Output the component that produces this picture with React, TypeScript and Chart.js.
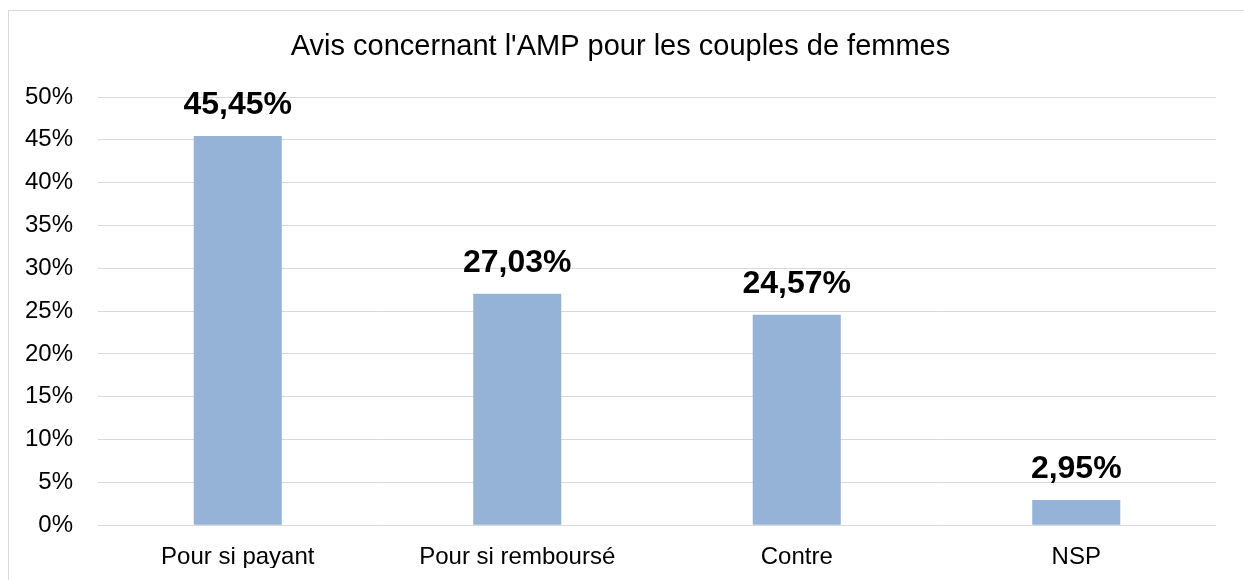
import React, { useEffect, useRef } from "react";
import { Chart, registerables } from "chart.js";

Chart.register(...registerables);

const categories = ["Pour si payant", "Pour si remboursé", "Contre", "NSP"];
const values = [45.45, 27.03, 24.57, 2.95];
const yTicksMax = 50;
const yTicksStep = 5;
const titleText = "Avis concernant l'AMP pour les couples de femmes";

const FONT = "'Liberation Sans', Arial, Helvetica, sans-serif";

const dataLabelsPlugin = {
  id: "dataLabels",
  afterDatasetsDraw(chart: any) {
    const ctx = chart.ctx;
    const meta = chart.getDatasetMeta(0);
    ctx.save();
    ctx.font = `bold 32px ${FONT}`;
    ctx.fillStyle = "#000";
    ctx.textAlign = "center";
    ctx.textBaseline = "alphabetic";
    meta.data.forEach((bar: any, i: number) => {
      const v = values[i];
      const label = v.toFixed(2).replace(".", ",") + "%";
      ctx.fillText(label, bar.x, bar.y - 22);
    });
    ctx.restore();
  },
};

export default function App() {
  const ref = useRef<HTMLCanvasElement>(null);
  useEffect(() => {
    if (!ref.current) return;
    const chart = new Chart(ref.current, {
      type: "bar",
      data: {
        labels: categories,
        datasets: [
          {
            data: values,
            backgroundColor: "#95B3D7",
            borderWidth: 0,
            categoryPercentage: 1,
            barPercentage: 0.315,
          },
        ],
      },
      options: {
        responsive: false,
        animation: false,
        layout: { padding: { left: 16, right: 28, top: 0, bottom: 12 } },
        plugins: {
          legend: { display: false },
          tooltip: { enabled: false },
          title: {
            display: true,
            text: titleText,
            color: "#000",
            font: { family: FONT, size: 29, weight: "normal" },
            padding: { top: 18.6, bottom: 32.6 },
          },
        },
        scales: {
          x: {
            grid: { display: false, drawTicks: false },
            border: { display: false },
            ticks: {
              color: "#000",
              font: { family: FONT, size: 24 },
              padding: 18,
            },
            afterFit: (scale: any) => {
              scale.height = 42.8;
              scale.paddingLeft = 0;
              scale.paddingRight = 0;
            },
          },
          y: {
            min: 0,
            max: yTicksMax,
            grid: { color: "#d9d9d9", lineWidth: 1, drawTicks: false },
            border: { display: false },
            ticks: {
              stepSize: yTicksStep,
              color: "#000",
              font: { family: FONT, size: 24 },
              padding: 25,
              callback: (v: any) => v + "%",
            },
            afterFit: (scale: any) => {
              scale.width = 73;
              scale.paddingTop = 0;
              scale.paddingBottom = 0;
            },
          },
        },
      },
      plugins: [dataLabelsPlugin],
    });
    return () => chart.destroy();
  }, []);

  return (
    <div
      style={{
        position: "fixed",
        left: 8,
        top: 10,
        width: 1260,
        height: 600,
        border: "1px solid #d9d9d9",
        background: "#fff",
      }}
    >
      <canvas ref={ref} width={1235} height={569} style={{ display: "block" }} />
    </div>
  );
}
